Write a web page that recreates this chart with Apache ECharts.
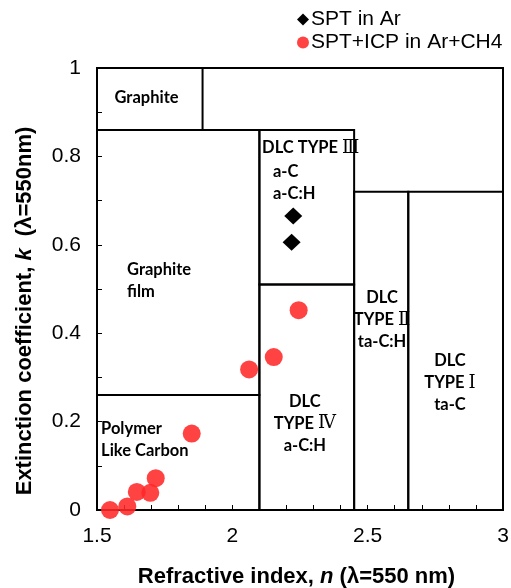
<!DOCTYPE html>
<html>
<head>
<meta charset="utf-8">
<script src="https://cdn.jsdelivr.net/npm/echarts@6/dist/echarts.min.js"></script>
<style>
  html, body { margin: 0; padding: 0; background: #fff; }
  #chart { width: 511px; height: 588px; }
</style>
</head>
<body>
<div id="chart"></div>
<script>
// Measured optical constants (n, k) at 550 nm
const sptAr = [[2.225, 0.665], [2.219, 0.606]];
const sptIcpArCh4 = [
  [1.548, 0.0], [1.612, 0.008], [1.647, 0.041], [1.697, 0.039], [1.717, 0.072],
  [1.850, 0.173], [2.062, 0.318], [2.153, 0.346], [2.245, 0.452]
];

// Classification regions: [nMin, kMin, nMax, kMax]
const regions = [
  [1.5, 0, 3, 1],
  [1.5, 0.86, 1.89, 1],
  [1.5, 0.26, 2.1, 0.86],
  [1.5, 0, 2.1, 0.26],
  [2.1, 0.51, 2.45, 0.86],
  [2.1, 0, 2.45, 0.51],
  [2.45, 0, 2.65, 0.72],
  [2.65, 0, 3, 0.72]
];

// Region names, anchored in (n, k) coordinates; Roman numerals set in a serif face
const regionLabels = [
  { text: 'Graphite', n: 1.683, k: 0.934, align: 'center' },
  { text: 'Graphite\nfilm', n: 1.611, k: 0.518, align: 'left' },
  { text: 'Polymer\nLike Carbon', n: 1.515, k: 0.158, align: 'left' },
  { text: 'DLC TYPE Ⅲ', n: 2.110, k: 0.819, align: 'left' },
  { text: 'a-C\na-C:H', n: 2.150, k: 0.740, align: 'left' },
  { text: 'DLC\nTYPE Ⅳ\na-C:H', n: 2.268, k: 0.196, align: 'center' },
  { text: 'DLC\nTYPE Ⅱ\nta-C:H', n: 2.553, k: 0.430, align: 'center' },
  { text: 'DLC\nTYPE Ⅰ\nta-C', n: 2.804, k: 0.287, align: 'center' }
];

const xTicks = { min: 1.5, max: 3, interval: 0.5 };
const yTicks = { min: 0, max: 1, interval: 0.2 };

const axisFont = 'Liberation Sans, Arial, sans-serif';
const boxFont = 'Lato, "Open Sans", sans-serif';

function toRich(text) {
  return text.split('\n').map(function (line) {
    return line.split(/([ⅠⅡⅢⅣ])/).filter(function (s) { return s.length; })
      .map(function (s) { return /[ⅠⅡⅢⅣ]/.test(s) ? '{r|' + s + '}' : '{b|' + s + '}'; })
      .join('');
  }).join('\n');
}

const chart = echarts.init(document.getElementById('chart'), null, { renderer: 'canvas' });

const titleRich = {
  a: { fontFamily: axisFont, fontSize: 22, fontWeight: 'bold', color: '#000' },
  i: { fontFamily: axisFont, fontSize: 22, fontWeight: 'bold', fontStyle: 'italic', color: '#000' }
};

chart.setOption({
  backgroundColor: '#fff',
  animation: false,
  grid: { left: 97, right: 8, top: 68, bottom: 78, containLabel: false, outerBoundsMode: 'none' },
  legend: {
    orient: 'vertical',
    left: 297,
    top: 9,
    padding: 0,
    itemWidth: 12,
    itemHeight: 12,
    itemGap: 2,
    textStyle: { fontFamily: axisFont, fontSize: 21, color: '#000', padding: [0, 0, 0, -3] },
    data: ['SPT in Ar', 'SPT+ICP in Ar+CH4']
  },
  xAxis: {
    type: 'value',
    min: xTicks.min, max: xTicks.max, interval: xTicks.interval,
    name: '{a|Refractive index, }{i|n}{a| (λ=550 nm)}',
    nameLocation: 'middle',
    nameGap: 56,
    nameTextStyle: { rich: titleRich, padding: [0, 7, 0, 0] },
    axisLine: { show: true, lineStyle: { color: '#000', width: 2 } },
    axisTick: { show: true, inside: true, length: 5, lineStyle: { color: '#000', width: 1 } },
    minorTick: { show: true, splitNumber: 5, length: 5, lineStyle: { color: '#000', width: 1 } },
    axisLabel: { fontFamily: axisFont, fontSize: 21, color: '#000', margin: 16 },
    splitLine: { show: false }
  },
  yAxis: {
    type: 'value',
    min: yTicks.min, max: yTicks.max, interval: yTicks.interval,
    name: '{a|Extinction coefficient, }{i|k}{a|  (λ=550nm)}',
    nameLocation: 'middle',
    nameGap: 61,
    nameTextStyle: { rich: titleRich, padding: [0, 44, 0, 0] },
    axisLine: { show: true, lineStyle: { color: '#000', width: 2 } },
    axisTick: { show: true, inside: true, length: 5, lineStyle: { color: '#000', width: 1 } },
    minorTick: { show: true, splitNumber: 2, length: 5, lineStyle: { color: '#000', width: 1 } },
    axisLabel: { fontFamily: axisFont, fontSize: 21, color: '#000', margin: 16 },
    splitLine: { show: false }
  },
  series: [
    {
      name: 'regions',
      type: 'custom',
      z: 1,
      silent: true,
      clip: false,
      encode: { x: [0, 2], y: [1, 3] },
      data: regions,
      renderItem: function (params, api) {
        const p0 = api.coord([api.value(0), api.value(1)]);
        const p1 = api.coord([api.value(2), api.value(3)]);
        return {
          type: 'rect',
          shape: { x: p0[0], y: p1[1], width: p1[0] - p0[0], height: p0[1] - p1[1] },
          style: { fill: 'none', stroke: '#000', lineWidth: 2 }
        };
      }
    },
    {
      name: 'labels',
      type: 'custom',
      z: 2,
      silent: true,
      clip: false,
      data: regionLabels.map(function (d) { return [d.n, d.k]; }),
      renderItem: function (params, api) {
        const d = regionLabels[params.dataIndex];
        const p = api.coord([api.value(0), api.value(1)]);
        return {
          type: 'text',
          x: p[0], y: p[1],
          style: {
            text: toRich(d.text),
            align: d.align,
            verticalAlign: 'middle',
            rich: {
              b: { fontFamily: boxFont, fontWeight: 'bold', fontSize: 16.5, lineHeight: 22, fill: '#000' },
              r: { fontFamily: '"DejaVu Serif", "Noto Sans CJK JP", serif', fontWeight: 'normal', fontSize: 18, lineHeight: 22, fill: '#000' }
            }
          }
        };
      }
    },
    {
      name: 'SPT in Ar',
      type: 'scatter',
      z: 3,
      symbol: 'diamond',
      symbolSize: [18, 17],
      itemStyle: { color: '#000', opacity: 1 },
      data: sptAr
    },
    {
      name: 'SPT+ICP in Ar+CH4',
      type: 'scatter',
      z: 4,
      symbol: 'circle',
      symbolSize: 18,
      itemStyle: { color: 'rgb(255,40,40)', opacity: 0.88 },
      data: sptIcpArCh4
    }
  ]
});
</script>
</body>
</html>
